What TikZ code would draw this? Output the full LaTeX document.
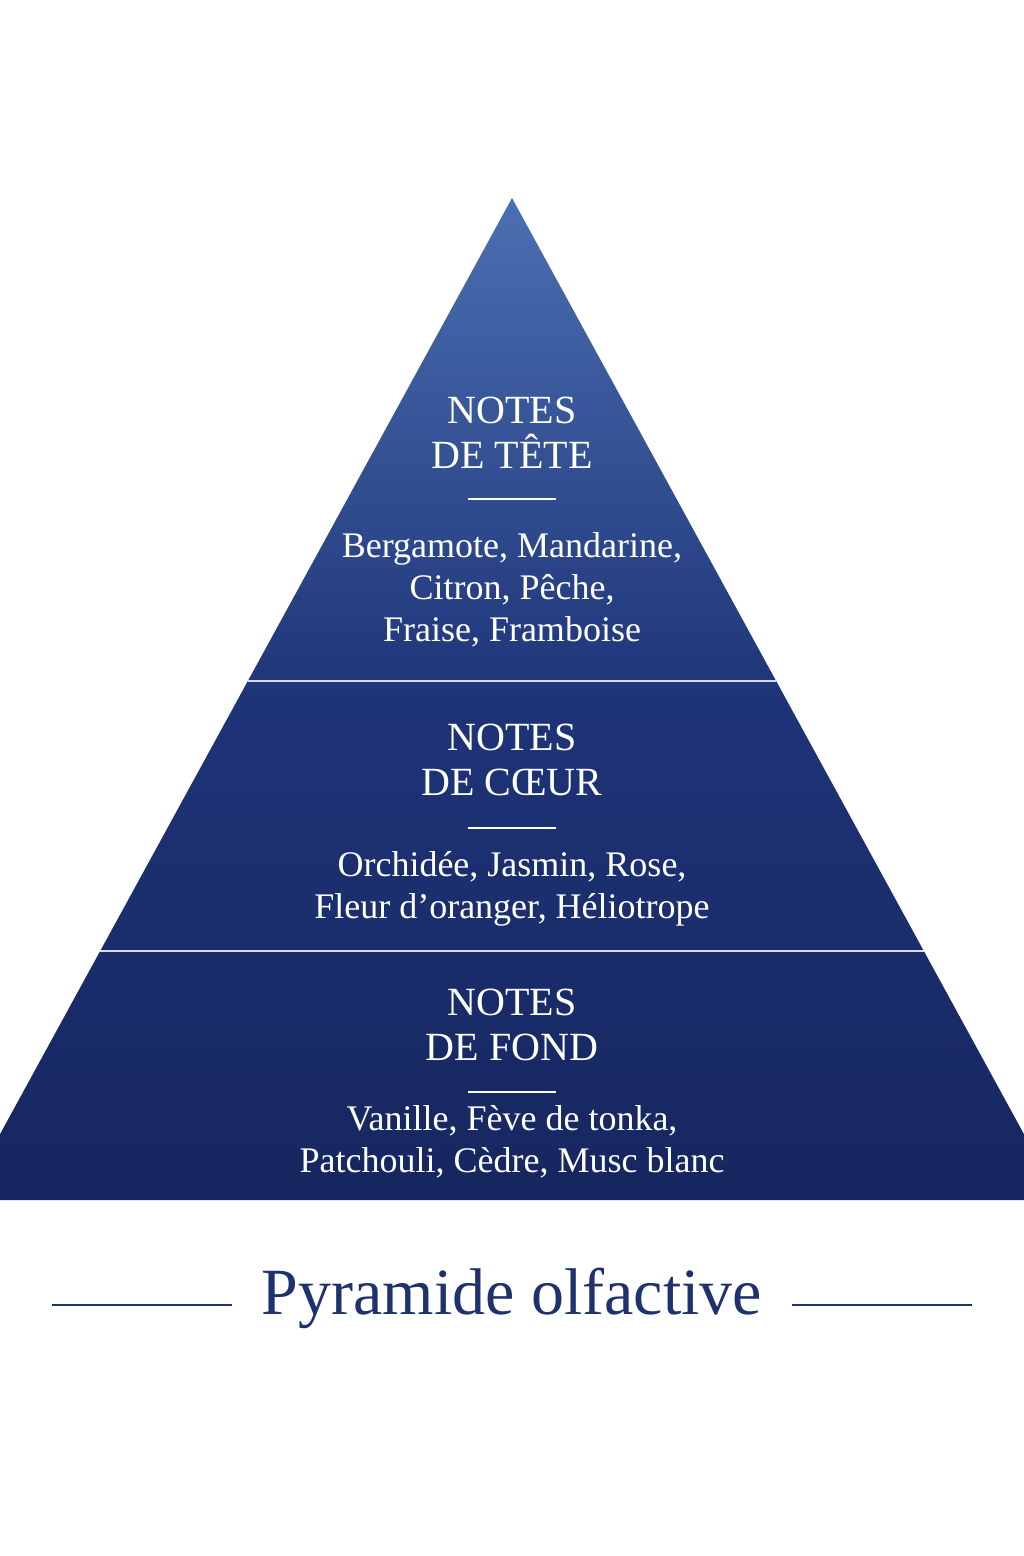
\documentclass[tikz,border=0pt]{standalone}
\usepackage{fontspec}
\setmainfont{Liberation Serif}
\begin{document}
\begin{tikzpicture}[x=1pt,y=-1pt,
 head/.style={text=white,align=center,font=\fontsize{40}{45}\selectfont},
 body/.style={text=white,align=center,font=\fontsize{36}{42}\selectfont},
 rul/.style={white,line width=1.5pt},
 sep/.style={white!85!blue,line width=2pt},
 tline/.style={draw={rgb,255:red,30;green,50;blue,110},line width=1.6pt}]
\definecolor{tblue}{RGB}{30,50,110}
\useasboundingbox (0,0) rectangle (1024,1556);
\fill[white] (0,0) rectangle (1024,1556);
\begin{scope}
\clip (0,0) rectangle (1024,1556);
\shade[top color={rgb,255:red,75;green,112;blue,178}, bottom color={rgb,255:red,22;green,38;blue,95}, middle color={rgb,255:red,30;green,52;blue,120}]
  (512,198) coordinate (apex) -- (1060,1200) coordinate (br) -- (-36,1200) coordinate (bl) -- cycle;
\end{scope}
\coordinate (s1l) at (248,681); \coordinate (s1r) at (776,681);
\coordinate (s2l) at (100,951); \coordinate (s2r) at (924,951);
\draw[sep] (s1l) -- (s1r);
\draw[sep] (s2l) -- (s2r);
\node[head] (h1) at (512,433) {NOTES\\DE TÊTE};
\coordinate (r1a) at (468,499); \coordinate (r1b) at (556,499);
\draw[rul] (r1a) -- (r1b);
\node[body] (b1) at (512,590) {Bergamote, Mandarine,\\Citron, Pêche,\\Fraise, Framboise};
\node[head] (h2) at (512,760) {NOTES\\DE CŒUR};
\coordinate (r2a) at (468,828); \coordinate (r2b) at (556,828);
\draw[rul] (r2a) -- (r2b);
\node[body] (b2) at (512,889) {Orchidée, Jasmin, Rose,\\Fleur d’oranger, Héliotrope};
\node[head] (h3) at (512,1025) {NOTES\\DE FOND};
\coordinate (r3a) at (468,1092); \coordinate (r3b) at (556,1092);
\draw[rul] (r3a) -- (r3b);
\node[body] (b3) at (512,1142) {Vanille, Fève de tonka,\\Patchouli, Cèdre, Musc blanc};
\node[text=tblue,font=\fontsize{66}{68}\selectfont] (title) at (512,1298) {Pyramide olfactive};
\coordinate (l1) at (52,1305); \coordinate (l2) at (232,1305);
\coordinate (l3) at (792,1305); \coordinate (l4) at (972,1305);
\draw[tline] (l1) -- (l2);
\draw[tline] (l3) -- (l4);
\end{tikzpicture}
\end{document}
